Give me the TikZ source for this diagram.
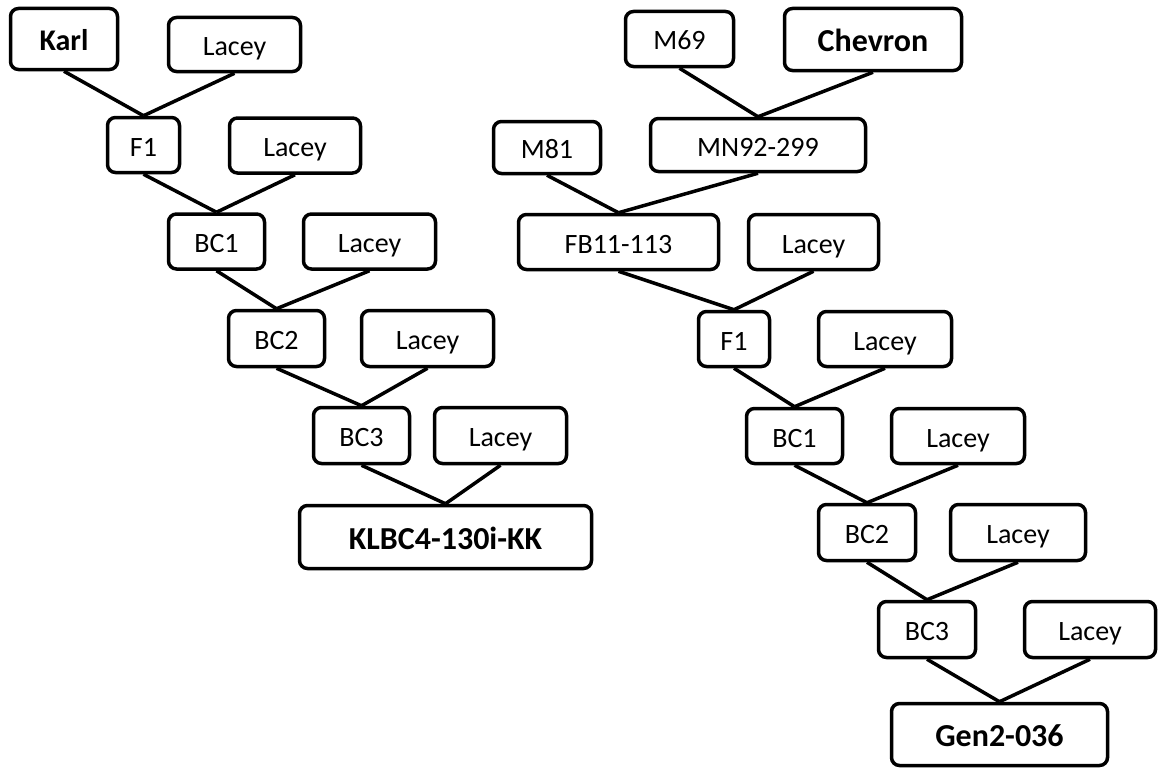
\documentclass[tikz,border=0pt]{standalone}
\usepackage{fontspec}
\setmainfont{Carlito}
\begin{document}
\begin{tikzpicture}[x=1pt,y=-1pt,
  box/.style={draw=black,line width=3.5pt,rounded corners=8pt,fill=white,inner sep=0pt,
    minimum height=55pt,text height=24pt,text depth=2pt,font=\fontsize{28}{30}\selectfont},
  bbox/.style={box,text height=26pt,text depth=2pt,font=\fontsize{32}{34}\selectfont\bfseries},
  link/.style={line width=3.5pt}]
\useasboundingbox (0,0) rectangle (1158,768);
% left tree
\node[bbox,minimum width=107pt,minimum height=61pt,text height=24pt,text depth=0pt,font=\fontsize{30}{32}\selectfont\bfseries] (karl) at (64,39) {Karl};
\node[box,minimum width=132pt,minimum height=54pt] (la1) at (234.5,44.5) {Lacey};
\node[box,minimum width=72pt] (f1a) at (143.5,145) {F1};
\node[box,minimum width=131pt] (la2) at (295,145.5) {Lacey};
\node[box,minimum width=96pt] (bc1a) at (216.5,241.5) {BC1};
\node[box,minimum width=132pt] (la3) at (369.5,241.5) {Lacey};
\node[box,minimum width=96pt,minimum height=56pt] (bc2a) at (276.5,338.5) {BC2};
\node[box,minimum width=132pt,minimum height=56pt] (la4) at (427.5,338.5) {Lacey};
\node[box,minimum width=96pt,minimum height=56pt] (bc3a) at (361.5,435.5) {BC3};
\node[box,minimum width=132pt,minimum height=56pt] (la5) at (500.5,435.5) {Lacey};
\node[bbox,minimum width=292pt,minimum height=63pt] (klbc) at (445.5,537) {KLBC4-130i-KK};
% right tree
\node[box,minimum width=108pt] (m69) at (679.5,39) {M69};
\node[bbox,minimum width=177pt,minimum height=62pt] (chev) at (873,39.5) {Chevron};
\node[box,minimum width=107pt,minimum height=52pt] (m81) at (547,147.5) {M81};
\node[box,minimum width=215pt,minimum height=53pt] (mn92) at (758,145) {MN92-299};
\node[box,minimum width=200pt] (fb11) at (618.5,242) {FB11-113};
\node[box,minimum width=130pt] (lb1) at (813.5,242) {Lacey};
\node[box,minimum width=71pt] (f1b) at (734,339) {F1};
\node[box,minimum width=133pt] (lb2) at (885,339) {Lacey};
\node[box,minimum width=96pt] (bc1b) at (794.5,436) {BC1};
\node[box,minimum width=133pt] (lb3) at (958,436) {Lacey};
\node[box,minimum width=97pt,minimum height=56pt] (bc2b) at (867,532.5) {BC2};
\node[box,minimum width=135pt,minimum height=56pt] (lb4) at (1018,532.5) {Lacey};
\node[box,minimum width=97pt,minimum height=56pt] (bc3b) at (927,629.5) {BC3};
\node[box,minimum width=131pt,minimum height=56pt] (lb5) at (1090,629.5) {Lacey};
\node[bbox,minimum width=216pt,minimum height=62pt] (gen2) at (999.5,734.5) {Gen2-036};
% connectors
\draw[link] (karl.south) -- (f1a.north);
\draw[link] (la1.south) -- (f1a.north);
\draw[link] (f1a.south) -- (bc1a.north);
\draw[link] (la2.south) -- (bc1a.north);
\draw[link] (bc1a.south) -- (bc2a.north);
\draw[link] (la3.south) -- (bc2a.north);
\draw[link] (bc2a.south) -- (bc3a.north);
\draw[link] (la4.south) -- (bc3a.north);
\draw[link] (bc3a.south) -- (klbc.north);
\draw[link] (la5.south) -- (klbc.north);
\draw[link] (m69.south) -- (mn92.north);
\draw[link] (chev.south) -- (mn92.north);
\draw[link] (m81.south) -- (fb11.north);
\draw[link] (mn92.south) -- (fb11.north);
\draw[link] (fb11.south) -- (f1b.north);
\draw[link] (lb1.south) -- (f1b.north);
\draw[link] (f1b.south) -- (bc1b.north);
\draw[link] (lb2.south) -- (bc1b.north);
\draw[link] (bc1b.south) -- (bc2b.north);
\draw[link] (lb3.south) -- (bc2b.north);
\draw[link] (bc2b.south) -- (bc3b.north);
\draw[link] (lb4.south) -- (bc3b.north);
\draw[link] (bc3b.south) -- (gen2.north);
\draw[link] (lb5.south) -- (gen2.north);
\end{tikzpicture}
\end{document}
